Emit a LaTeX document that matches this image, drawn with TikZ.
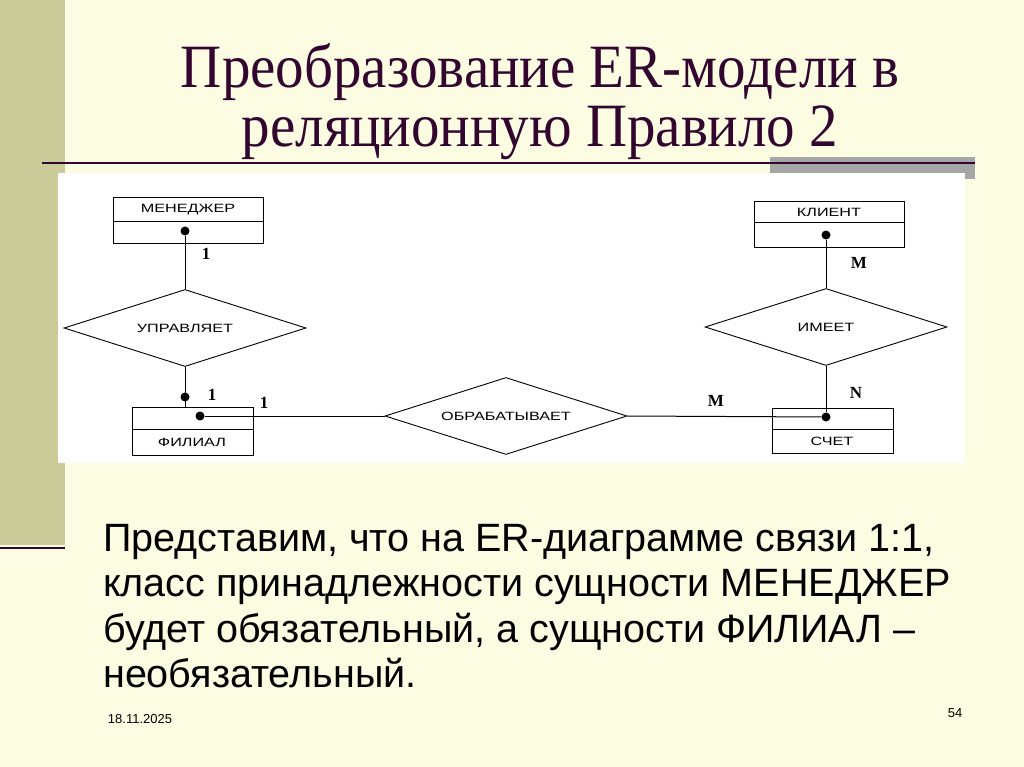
\documentclass[tikz,border=0pt]{standalone}
\usepackage{fontspec}
\setmainfont{Liberation Serif}
\newfontfamily\arialf{Liberation Sans}
\usetikzlibrary{shapes.geometric}
\definecolor{bgc}{HTML}{FCFCE2}
\definecolor{barc}{HTML}{CBCB9A}
\definecolor{maroon}{HTML}{33062F}
\begin{document}
\begin{tikzpicture}[x=1pt,y=-1pt,
  rel/.style={draw,line width=0.9pt,diamond,minimum width=242pt,minimum height=77pt,aspect=3.1,inner sep=0pt},
  lbl/.style={font=\arialf\fontsize{12}{13}\selectfont,xscale=1.35},
  card/.style={font=\fontsize{17}{18}\selectfont\bfseries},
  ln/.style={line width=1pt},
  dot/.style={circle,fill=black,inner sep=0pt,minimum size=9pt}]
\fill[bgc] (0,0) rectangle (1024,767);
\useasboundingbox (0,0) rectangle (1024,767);
\fill[barc] (0,0) rectangle (65,545);
\draw[maroon,line width=2.5pt] (0,548) -- (65,548);
\fill[gray!70] (770,157) rectangle (975,179);
\draw[maroon,line width=2.5pt] (42,163) -- (975,163);
\node[maroon,font=\fontsize{57}{60}\selectfont,yscale=1.08] (t1) at (540,72) {Преобразование ER-модели в};
\node[maroon,font=\fontsize{57}{60}\selectfont,yscale=1.08] (t2) at (540,133) {реляционную Правило 2};
\fill[white] (58,173) rectangle (965,463);
% entities
\draw[ln] (113,198) rectangle (263,243); \draw[ln] (113,222) -- (263,222);
\node[lbl] (men) at (188,210) {МЕНЕДЖЕР};
\draw[ln] (132,407) rectangle (253,455); \draw[ln] (132,429) -- (253,429);
\node[lbl] (fil) at (192,442) {ФИЛИАЛ};
\draw[ln] (754,202) rectangle (904,247); \draw[ln] (754,223) -- (904,223);
\node[lbl] (kli) at (829,212) {КЛИЕНТ};
\draw[ln] (772,408) rectangle (893,453); \draw[ln] (772,429) -- (893,429);
\node[lbl] (sch) at (832,441) {СЧЕТ};
% relationships
\node[rel] (upr) at (185,328) {};
\node[rel] (obr) at (506,416) {};
\node[rel] (ime) at (826,327) {};
\node[lbl] (uprl) at (upr.center) {УПРАВЛЯЕТ};
\node[lbl] (obrl) at (obr.center) {ОБРАБАТЫВАЕТ};
\node[lbl] (imel) at (ime.center) {ИМЕЕТ};
% dots
\node[dot] (d1) at (185,231) {};
\node[dot] (d2) at (185,397) {};
\node[dot] (d3) at (200,416) {};
\node[dot] (d4) at (826,235) {};
\node[dot] (d5) at (826,417) {};
\coordinate (ftop) at (185,407);
\draw[ln] (d1) -- (upr.north);
\draw[ln] (upr.south) -- (ftop);
\draw[ln] (d3) -- (obr.west);
\draw[ln] (obr.east) -- (d5);
\draw[ln] (d4) -- (ime.north);
\draw[ln] (ime.south) -- (d5);
% cardinalities
\node[card] (c1) at (206,254) {1};
\node[card] (c2) at (212,395) {1};
\node[card] (c3) at (264,403) {1};
\node[card] (c4) at (716,401) {M};
\node[card] (c5) at (859,263) {M};
\node[card] (c6) at (856,393) {N};
% body text
\node[anchor=north west,align=left,font=\arialf\fontsize{39.5}{45.5}\selectfont,inner sep=0pt] (body) at (103,524)
 {Представим, что на ER-диаграмме связи 1:1,\\класс принадлежности сущности МЕНЕДЖЕР\\будет обязательный, а сущности ФИЛИАЛ –\\необязательный.};
\node[font=\arialf\fontsize{13}{14}\selectfont] (date) at (140,719) {18.11.2025};
\node[font=\arialf\fontsize{13}{14}\selectfont] (pg) at (955,713) {54};
\end{tikzpicture}
\end{document}
